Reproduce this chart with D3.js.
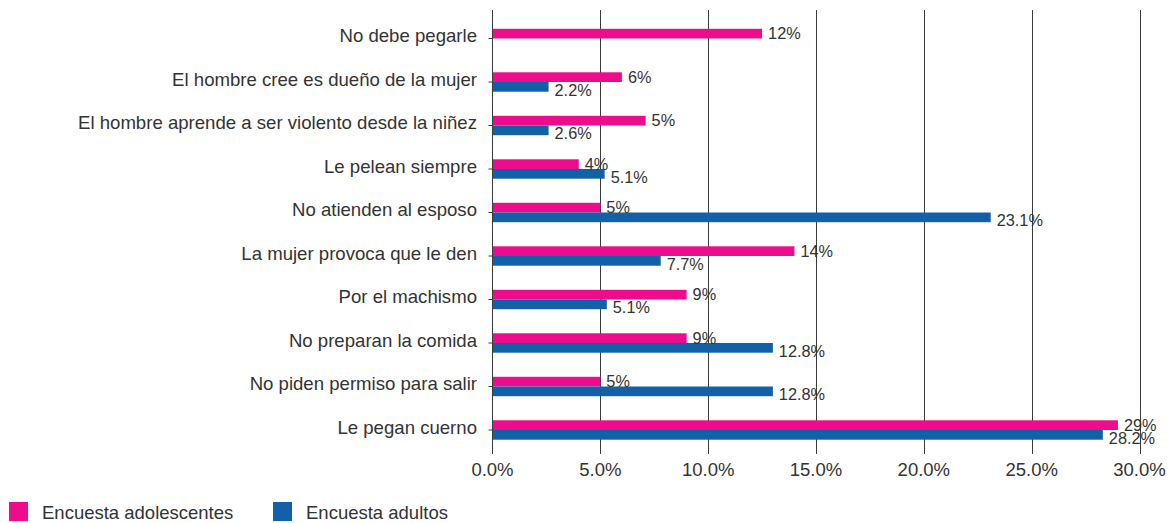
<!DOCTYPE html>
<html>
<head>
<meta charset="utf-8">
<script src="https://cdn.jsdelivr.net/npm/d3@7"></script>
<style>
  html, body { margin: 0; padding: 0; background: #fff; }
  svg { display: block; font-family: "Liberation Sans", Arial, Helvetica, sans-serif; }
</style>
</head>
<body>
<svg id="chart" width="1169" height="523"></svg>
<script>
const categories = [
  "No debe pegarle",
  "El hombre cree es dueño de la mujer",
  "El hombre aprende a ser violento desde la niñez",
  "Le pelean siempre",
  "No atienden al esposo",
  "La mujer provoca que le den",
  "Por el machismo",
  "No preparan la comida",
  "No piden permiso para salir",
  "Le pegan cuerno"
];
const seriesNames = ["Encuesta adolescentes", "Encuesta adultos"];
const adolescentes = [12.5, 6.0, 7.1, 4.0, 5.0, 14.0, 9.0, 9.0, 5.0, 29.0];
const adultos = [null, 2.6, 2.6, 5.2, 23.1, 7.8, 5.3, 13.0, 13.0, 28.3];
const adolescentesLabels = ["12%", "6%", "5%", "4%", "5%", "14%", "9%", "9%", "5%", "29%"];
const adultosLabels = [null, "2.2%", "2.6%", "5.1%", "23.1%", "7.7%", "5.1%", "12.8%", "12.8%", "28.2%"];
const xTicks = [0, 5, 10, 15, 20, 25, 30];

const colors = ["#EC0C8C", "#1160A8"];
const textColor = "#333333";

const svg = d3.select("#chart");
const x0 = 492.5, x1 = 1139.5, yTop = 10, yBottom = 454;
const x = d3.scaleLinear().domain([0, 30]).range([x0, x1]);
const y = d3.scaleBand().domain(categories).range([16.75, 451.75]);
const barH = 9.7;
const mid = c => y(c) + y.bandwidth() / 2;

// gridlines
svg.append("g").selectAll("line").data(xTicks.filter(t => t > 0)).join("line")
  .attr("x1", d => Math.round(x(d)) + 0.5).attr("x2", d => Math.round(x(d)) + 0.5)
  .attr("y1", yTop).attr("y2", yBottom)
  .attr("stroke", "#3a3a3a").attr("stroke-width", 1);

// bottom tick labels
svg.append("g").selectAll("text").data(xTicks).join("text")
  .attr("x", d => x(d)).attr("y", 476)
  .attr("text-anchor", "middle")
  .attr("font-size", "18.5px").attr("fill", textColor)
  .text(d => d.toFixed(1) + "%");

const rows = categories.map((c, i) => ({c, i}));

// pink bars
svg.append("g").selectAll("rect").data(rows).join("rect")
  .attr("x", x0).attr("y", d => mid(d.c) - barH)
  .attr("width", d => x(adolescentes[d.i]) - x0).attr("height", barH)
  .attr("fill", colors[0]);

// blue bars
svg.append("g").selectAll("rect").data(rows.filter(d => adultos[d.i] != null)).join("rect")
  .attr("x", x0).attr("y", d => mid(d.c))
  .attr("width", d => x(adultos[d.i]) - x0).attr("height", barH)
  .attr("fill", colors[1]);

// left axis line
svg.append("line").attr("x1", x0).attr("x2", x0).attr("y1", yTop).attr("y2", yBottom)
  .attr("stroke", "#3a3a3a").attr("stroke-width", 1);

// left ticks
svg.append("g").selectAll("line").data(categories).join("line")
  .attr("x1", x0 - 4).attr("x2", x0)
  .attr("y1", d => mid(d)).attr("y2", d => mid(d))
  .attr("stroke", "#3a3a3a").attr("stroke-width", 1);

// category labels
svg.append("g").selectAll("text").data(categories).join("text")
  .attr("x", 477).attr("y", d => mid(d) + 3.5)
  .attr("text-anchor", "end").attr("font-size", "18.6px").attr("fill", textColor)
  .text(d => d);

// value labels
svg.append("g").selectAll("text").data(rows).join("text")
  .attr("x", d => x(adolescentes[d.i]) + 6)
  .attr("y", d => mid(d.c) + 0.5)
  .attr("font-size", "16.3px").attr("fill", textColor)
  .text(d => adolescentesLabels[d.i]);

svg.append("g").selectAll("text").data(rows.filter(d => adultos[d.i] != null)).join("text")
  .attr("x", d => x(adultos[d.i]) + 6)
  .attr("y", d => mid(d.c) + 13.5)
  .attr("font-size", "16.3px").attr("fill", textColor)
  .text(d => adultosLabels[d.i]);

// legend
const legendX = [9, 273];
const lg = svg.append("g").selectAll("g").data(seriesNames).join("g");
lg.append("rect").attr("x", (d, i) => legendX[i]).attr("y", 502)
  .attr("width", 19).attr("height", 19).attr("fill", (d, i) => colors[i]);
lg.append("text").attr("x", (d, i) => legendX[i] + 33).attr("y", 519)
  .attr("font-size", "18.5px").attr("fill", textColor).text(d => d);
</script>
</body>
</html>
